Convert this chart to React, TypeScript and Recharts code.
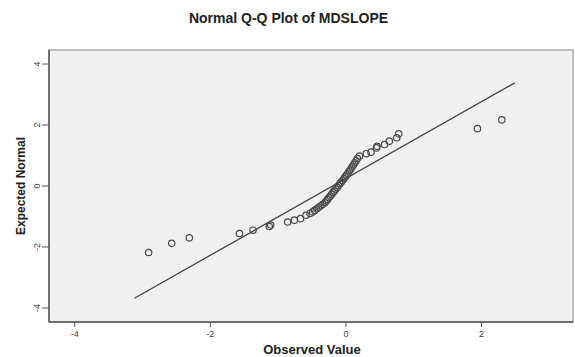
import React from "react";
import {
  ScatterChart,
  Scatter,
  XAxis,
  YAxis,
  CartesianGrid,
  ReferenceLine,
  ReferenceArea,
} from "recharts";

const observed = [
  -2.91, -2.57, -2.31, -1.57, -1.37, -1.11, -1.13, -0.86, -0.76, -0.67,
  -0.59, -0.53, -0.49, -0.46, -0.43, -0.4, -0.37, -0.34, -0.31, -0.29,
  -0.27, -0.25, -0.23, -0.21, -0.19, -0.17, -0.15, -0.13, -0.11, -0.09,
  -0.07, -0.05, -0.03, -0.01, 0.01, 0.03, 0.05, 0.07, 0.09, 0.11,
  0.13, 0.15, 0.17, 0.2, 0.3, 0.37, 0.45, 0.46, 0.57, 0.64,
  0.75, 0.78, 1.94, 2.3,
];
const expected = [
  -2.18, -1.88, -1.7, -1.56, -1.45, -1.28, -1.33, -1.18, -1.12, -1.07,
  -0.96, -0.9, -0.85, -0.8, -0.75, -0.7, -0.65, -0.6, -0.55, -0.49,
  -0.44, -0.38, -0.33, -0.27, -0.21, -0.16, -0.1, -0.05, 0.01, 0.07,
  0.12, 0.18, 0.24, 0.3, 0.36, 0.42, 0.49, 0.55, 0.62, 0.69,
  0.76, 0.83, 0.9, 0.98, 1.06, 1.11, 1.25, 1.3, 1.36, 1.47,
  1.58, 1.71, 1.88, 2.17,
];

// reference line end points
const lineX = [-3.12, 2.49];
const lineY = [-3.68, 3.38];

const xTicks = [-4, -2, 0, 2];
const yTicks = [-4, -2, 0, 2, 4];
const xDomain = [-4.38, 3.35];
const yDomain = [-4.46, 4.46];

const points = observed.map((x, i) => ({ x, y: expected[i] }));

const font = "'Liberation Sans', Arial, sans-serif";

const XTick = (props: any) => {
  const { x, y, payload } = props;
  return (
    <text x={x} y={y + 8} textAnchor="middle" fontSize={9} fill="#444" fontFamily={font}>
      {payload.value}
    </text>
  );
};

const YTick = (props: any) => {
  const { y, payload } = props;
  return (
    <text
      x={37}
      y={y}
      transform={`rotate(-90, 37, ${y})`}
      textAnchor="middle"
      dominantBaseline="central"
      fontSize={9}
      fill="#444"
      fontFamily={font}
    >
      {payload.value}
    </text>
  );
};

const Ring = (props: any) => (
  <circle cx={props.cx} cy={props.cy} r={3.2} fill="none" stroke="#4a4a4a" strokeWidth={1.2} />
);

export default function App() {
  return (
    <div style={{ position: "absolute", left: 0, top: 0, width: 575, height: 357, background: "#fff", fontFamily: font }}>
      <div style={{ position: "absolute", left: 0, width: 577, top: 10, textAlign: "center", fontSize: 14, fontWeight: "bold", color: "#222" }}>
        Normal Q-Q Plot of MDSLOPE
      </div>
      <ScatterChart width={575} height={357} margin={{ top: 50, right: 2, bottom: 5, left: 19 }}>
        <CartesianGrid fill="#f0f0f0" horizontal={false} vertical={false} />
        <ReferenceArea
          x1={xDomain[0]}
          x2={xDomain[1]}
          y1={yDomain[0]}
          y2={yDomain[1]}
          fill="none"
          stroke="#aaa"
          strokeWidth={1.5}
          ifOverflow="visible"
        />
        <XAxis
          type="number"
          dataKey="x"
          domain={xDomain}
          ticks={xTicks}
          allowDataOverflow
          height={30}
          tickSize={5}
          tick={<XTick />}
          axisLine={{ stroke: "#555", strokeWidth: 1.5 }}
          tickLine={{ stroke: "#555" }}
        />
        <YAxis
          type="number"
          dataKey="y"
          domain={yDomain}
          ticks={yTicks}
          allowDataOverflow
          width={30}
          tickSize={7}
          tick={<YTick />}
          axisLine={{ stroke: "#555", strokeWidth: 1.5 }}
          tickLine={{ stroke: "#555" }}
        />
        <ReferenceLine
          segment={[
            { x: lineX[0], y: lineY[0] },
            { x: lineX[1], y: lineY[1] },
          ]}
          stroke="#444"
          strokeWidth={1.3}
        />
        <Scatter data={points} shape={<Ring />} isAnimationActive={false} />
      </ScatterChart>
      <div style={{ position: "absolute", left: 0, width: 624, top: 342, textAlign: "center", fontSize: 13, fontWeight: "bold", color: "#222" }}>
        Observed Value
      </div>
      <div
        style={{
          position: "absolute",
          left: 21,
          top: 186,
          transform: "translate(-50%, -50%) rotate(-90deg)",
          whiteSpace: "nowrap",
          fontSize: 12,
          fontWeight: "bold",
          color: "#222",
        }}
      >
        Expected Normal
      </div>
    </div>
  );
}
